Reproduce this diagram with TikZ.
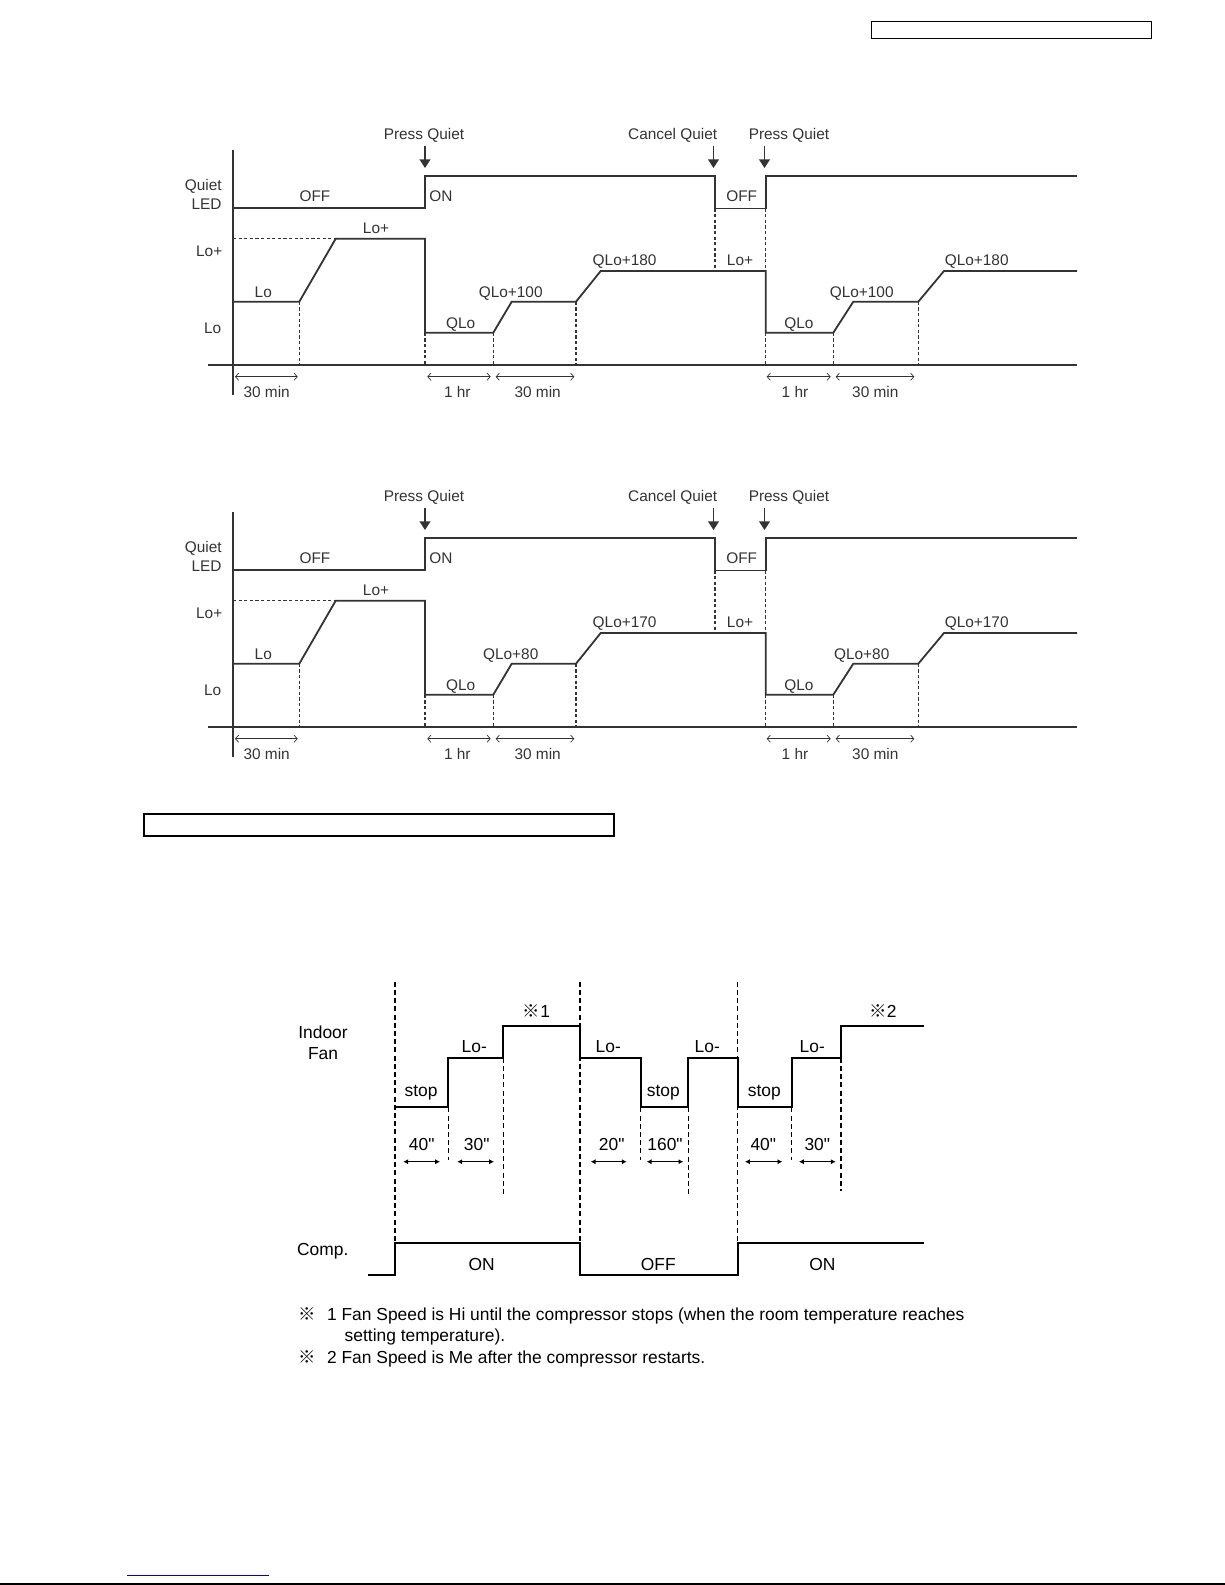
\documentclass[tikz,border=0pt]{standalone}
\usepackage{fontspec}
\setmainfont{Liberation Sans}[Ligatures=TeXOff]
\newfontfamily\cjkfont{Noto Sans CJK JP}
\usetikzlibrary{arrows.meta}
\definecolor{ink}{HTML}{333333}
\definecolor{linkblue}{RGB}{0,0,200}
\tikzset{
  wave/.style={draw=ink,line width=0.9pt,line join=miter},
  axisln/.style={draw=ink,line width=1pt},
  dsh/.style={draw=ink,line width=0.55pt,dash pattern=on 1.6pt off 1.2pt},
  lbl/.style={font=\fontsize{7.7}{9.5}\selectfont,text=ink,inner sep=0pt,anchor=base},
  lble/.style={lbl,anchor=base east},
  evt/.style={draw=ink,line width=0.7pt,-{Triangle[width=5.4pt,length=4.3pt]}},
  dimq/.style={draw=ink,line width=0.35pt,{Straight Barb[length=1.6pt,width=3.6pt]}-{Straight Barb[length=1.6pt,width=3.6pt]}},
  fan/.style={draw=black,line width=1.1pt,line join=miter},
  fdsh/.style={draw=black,line width=0.7pt,dash pattern=on 2.5pt off 1.6pt},
  flbl/.style={font=\fontsize{8.7}{10.5}\selectfont,inner sep=0pt,anchor=base},
  fdim/.style={draw=black,line width=0.5pt,{Latex[length=2.4pt,width=2.6pt]}-{Latex[length=2.4pt,width=2.6pt]}},
  note/.style={font=\fontsize{8.7}{10.5}\selectfont,inner sep=0pt,anchor=base west},
}
\newcommand\quietchart[4]{%
\begin{scope}[shift={(0,#1)}]
  % axes
  \coordinate (#2ax0) at (233,150);
  \coordinate (#2ax1) at (233,395);
  \coordinate (#2bl0) at (208,365);
  \coordinate (#2bl1) at (1077,365);
  \draw[axisln] (#2ax0) -- (#2ax1);
  \draw[axisln] (#2bl0) -- (#2bl1);
  % LED line
  \draw[wave] (233,208) -- (425,208) -- (425,175.7) -- (715,175.7) -- (715,208.5)
      -- (765.7,208.5) -- (765.7,175.7) -- (1077,175.7);
  % speed line
  \draw[wave] (233,301.7) -- (299.3,301.7) -- (335.7,238.7) -- (425,238.7) -- (425,332.7)
      -- (493.3,332.7) -- (511.7,301.7) -- (576,301.7) -- (600.7,271) -- (765.7,271)
      -- (765.7,332.7) -- (833.3,332.7) -- (853.3,301.7) -- (918.3,301.7) -- (944,271) -- (1077,271);
  % dashed guides
  \draw[dsh] (233,238.7) -- (335.7,238.7);
  \draw[dsh] (299.3,301.7) -- (299.3,365);
  \draw[dsh] (425,332.7) -- (425,365);
  \draw[dsh] (493.3,332.7) -- (493.3,365);
  \draw[dsh] (576,301.7) -- (576,365);
  \draw[dsh] (715,208.5) -- (715,271);
  \draw[dsh] (765.7,208.5) -- (765.7,271);
  \draw[dsh] (765.7,332.7) -- (765.7,365);
  \draw[dsh] (833.3,332.7) -- (833.3,365);
  \draw[dsh] (918.3,301.7) -- (918.3,365);
  % events
  \node[lbl] (#2pq1) at (424,139.3) {Press Quiet};
  \node[lbl] (#2cq) at (672.7,139.3) {Cancel Quiet};
  \node[lbl] (#2pq2) at (789,139.3) {Press Quiet};
  \coordinate (#2t1) at (425,168);
  \coordinate (#2t2) at (713.5,168);
  \coordinate (#2t3) at (764.5,168);
  \draw[evt] ([yshift=-1.5pt]#2pq1.south -| #2t1) -- (#2t1);
  \draw[evt] ([yshift=-1.5pt]#2cq.south -| #2t2) -- (#2t2);
  \draw[evt] ([yshift=-1.5pt]#2pq2.south -| #2t3) -- (#2t3);
  % axis labels
  \node[lble] (#2q) at (222,190) {Quiet};
  \node[lble] (#2led) at (222,209) {LED};
  \node[lble] (#2yl1) at (222.7,256) {Lo+};
  \node[lble] (#2yl2) at (221.7,333.3) {Lo};
  % state labels
  \node[lbl] (#2off1) at (315,201) {OFF};
  \node[lbl] (#2on1) at (441,201) {ON};
  \node[lbl] (#2off2) at (741.7,201) {OFF};
  \node[lbl] (#2lp1) at (376,233.3) {Lo+};
  \node[lbl] (#2lo1) at (263.3,297.3) {Lo};
  \node[lbl] (#2ql1) at (460.7,328.3) {QLo};
  \node[lbl] (#2qa1) at (510.7,297.3) {#3};
  \node[lbl] (#2qb1) at (624.6,265.7) {#4};
  \node[lbl] (#2lp2) at (740,265.7) {Lo+};
  \node[lbl] (#2ql2) at (799,328.3) {QLo};
  \node[lbl] (#2qa2) at (861.7,297.3) {#3};
  \node[lbl] (#2qb2) at (976.7,265.7) {#4};
  % durations
  \coordinate (#2d1a) at (235,376.7);   \coordinate (#2d1b) at (297.7,376.7);
  \coordinate (#2d2a) at (427.3,376.7); \coordinate (#2d2b) at (490.7,376.7);
  \coordinate (#2d3a) at (495.7,376.7); \coordinate (#2d3b) at (574.3,376.7);
  \coordinate (#2d4a) at (766.7,376.7); \coordinate (#2d4b) at (830.7,376.7);
  \coordinate (#2d5a) at (835.7,376.7); \coordinate (#2d5b) at (914.3,376.7);
  \draw[dimq] (#2d1a) -- (#2d1b);
  \draw[dimq] (#2d2a) -- (#2d2b);
  \draw[dimq] (#2d3a) -- (#2d3b);
  \draw[dimq] (#2d4a) -- (#2d4b);
  \draw[dimq] (#2d5a) -- (#2d5b);
  \node[lbl] (#2m1) at (266.7,397) {30 min};
  \node[lbl] (#2m2) at (457.3,397) {1 hr};
  \node[lbl] (#2m3) at (537.7,397) {30 min};
  \node[lbl] (#2m4) at (795,397) {1 hr};
  \node[lbl] (#2m5) at (875.3,397) {30 min};
\end{scope}}
\begin{document}
\begin{tikzpicture}[x=0.5pt,y=-0.5pt]
  \useasboundingbox (0,0) rectangle (1225,1585);
  % header box
  \draw[line width=0.65pt] (871.7,21.7) rectangle (1151.7,38.3);
  % two quiet charts
  \quietchart{0}{a}{QLo+100}{QLo+180}
  \quietchart{362}{b}{QLo+80}{QLo+170}
  % section box
  \draw[line width=1.15pt] (144.3,814) rectangle (614,835.7);
  % ---------- third diagram ----------
  \draw[fdsh] (395,981.7) -- (395,1243.3);
  \draw[fdsh] (580,981.7) -- (580,1243.3);
  \draw[fdsh] (737.7,981.7) -- (737.7,1243.3);
  \draw[fdsh] (448.3,1107.3) -- (448.3,1160);
  \draw[fdsh] (503.3,1057.7) -- (503.3,1195);
  \draw[fdsh] (640.7,1107.3) -- (640.7,1160);
  \draw[fdsh] (688.3,1107.3) -- (688.3,1194);
  \draw[fdsh] (791.7,1107.3) -- (791.7,1160);
  \draw[fdsh] (841,1057.7) -- (841,1191);
  \draw[fan] (395,1107.3) -- (448.3,1107.3) -- (448.3,1057.7) -- (503.3,1057.7) -- (503.3,1025.7)
     -- (580,1025.7) -- (580,1057.7) -- (640.7,1057.7) -- (640.7,1107.3) -- (688.3,1107.3)
     -- (688.3,1057.7) -- (737.7,1057.7) -- (737.7,1107.3) -- (791.7,1107.3) -- (791.7,1057.7)
     -- (841,1057.7) -- (841,1025.7) -- (924,1025.7);
  \draw[fan] (368.3,1275) -- (395,1275) -- (395,1243.3) -- (580,1243.3) -- (580,1275)
     -- (737.7,1275) -- (737.7,1243.3) -- (924,1243.3);
  \node[flbl,align=center] (fanlbl) at (323,1059) {Indoor\\Fan};
  \node[flbl] (complbl) at (322.8,1255.7) {Comp.};
  \node[flbl] (c1) at (481.7,1270) {ON};
  \node[flbl] (c2) at (658.3,1270) {OFF};
  \node[flbl] (c3) at (822.3,1270) {ON};
  \node[flbl] (s1) at (421,1096) {stop};
  \node[flbl] (s2) at (663.3,1096) {stop};
  \node[flbl] (s3) at (764.3,1096) {stop};
  \node[flbl] (l1) at (474.3,1052.7) {Lo-};
  \node[flbl] (l2) at (608.3,1052.7) {Lo-};
  \node[flbl] (l3) at (707.3,1052.7) {Lo-};
  \node[flbl] (l4) at (812.3,1052.7) {Lo-};
  \node[flbl] (n1) at (536.5,1017) {{\cjkfont ※}1};
  \node[flbl] (n2) at (883,1017) {{\cjkfont ※}2};
  \coordinate (f1a) at (403.3,1161.7); \coordinate (f1b) at (440,1161.7);
  \coordinate (f2a) at (457.3,1161.7); \coordinate (f2b) at (494,1161.7);
  \coordinate (f3a) at (590.7,1161.7); \coordinate (f3b) at (626.7,1161.7);
  \coordinate (f4a) at (646.7,1161.7); \coordinate (f4b) at (683.3,1161.7);
  \coordinate (f5a) at (745,1161.7);   \coordinate (f5b) at (782.3,1161.7);
  \coordinate (f6a) at (799,1161.7);   \coordinate (f6b) at (835.7,1161.7);
  \draw[fdim] (f1a) -- (f1b);
  \draw[fdim] (f2a) -- (f2b);
  \draw[fdim] (f3a) -- (f3b);
  \draw[fdim] (f4a) -- (f4b);
  \draw[fdim] (f5a) -- (f5b);
  \draw[fdim] (f6a) -- (f6b);
  \node[flbl] (t1) at (421.7,1150) {40"};
  \node[flbl] (t2) at (476.7,1150) {30"};
  \node[flbl] (t3) at (611.7,1150) {20"};
  \node[flbl] (t4) at (665,1150) {160"};
  \node[flbl] (t5) at (763.3,1150) {40"};
  \node[flbl] (t6) at (817.3,1150) {30"};
  % notes
  \node[flbl] (k1) at (306.7,1320) {\cjkfont ※};
  \node[note] (k1t) at (326.7,1320) {1 Fan Speed is Hi until the compressor stops (when the room temperature reaches};
  \node[note] (k1u) at (344.3,1341.5) {setting temperature).};
  \node[flbl] (k2) at (306.7,1363) {\cjkfont ※};
  \node[note] (k2t) at (326.7,1363) {2 Fan Speed is Me after the compressor restarts.};
  % footer
  \draw[linkblue,line width=0.5pt] (126.7,1575) -- (269,1575);
  \draw[line width=1pt] (0,1584) -- (1225,1584);
\end{tikzpicture}
\end{document}
